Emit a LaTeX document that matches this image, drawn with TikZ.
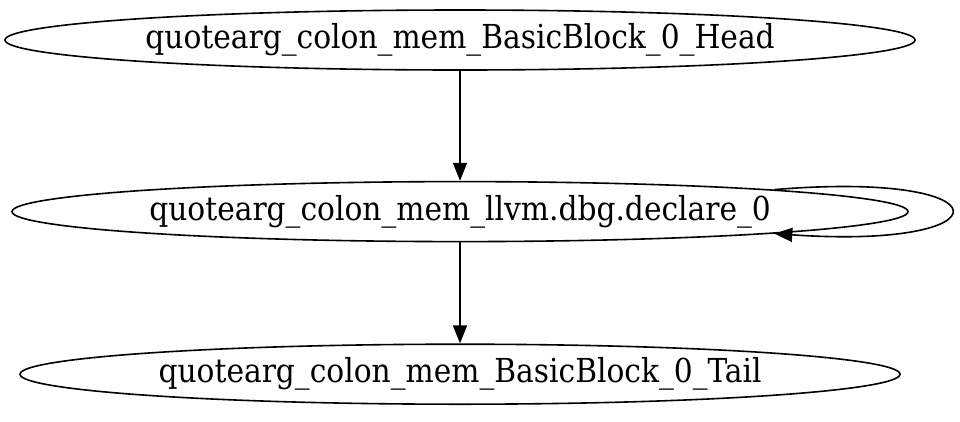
\documentclass[tikz,border=0pt]{standalone}
\usepackage{fontspec}
\setmainfont{DejaVu Serif Condensed}
\usepackage{tikz}
\usetikzlibrary{arrows.meta,positioning,shapes.geometric}

\begin{document}
\begin{tikzpicture}[
  x=1pt,y=1pt,
  font=\fontsize{33}{40}\selectfont,
  blk/.style={ellipse,draw,line width=1.6pt,inner sep=0pt,minimum height=60pt},
  ar/.style={-{Triangle[length=18pt,width=14pt]},line width=1.6pt},
]
\useasboundingbox (0,0) rectangle (960,-421);

% ---- Blocks
\node[blk,minimum width=910pt] (head) at (460,-40) {quotearg\_colon\_mem\_BasicBlock\_0\_Head};
\node[blk,minimum width=896pt,below=110pt of head] (decl) {quotearg\_colon\_mem\_llvm.dbg.declare\_0};
\node[blk,minimum width=880pt,below=101pt of decl] (tail) {quotearg\_colon\_mem\_BasicBlock\_0\_Tail};

% ---- Edges
\draw[ar] (head) -- (decl);
\draw[ar] (decl) -- (tail);
\draw[ar] (decl.4.2) .. controls (1010,-170) and (1010,-250) .. (decl.-4.2);

\end{tikzpicture}
\end{document}
